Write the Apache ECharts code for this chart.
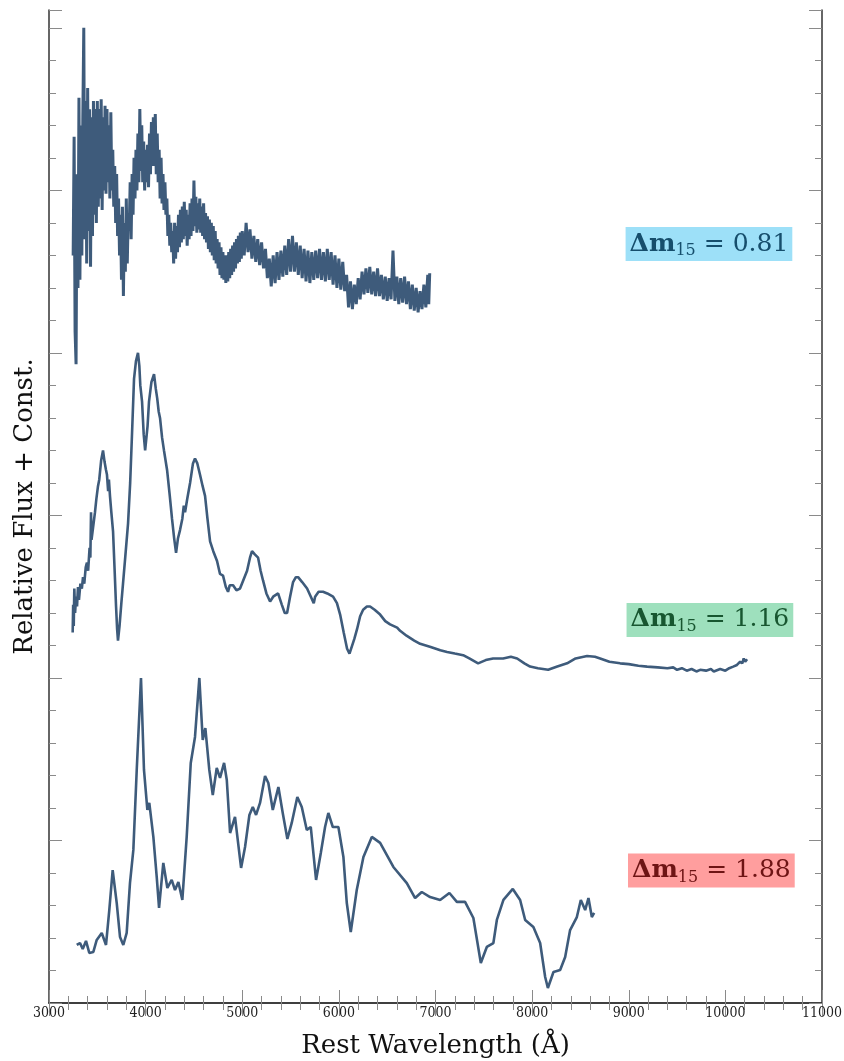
<!DOCTYPE html>
<html><head><meta charset="utf-8">
<script src="https://cdn.jsdelivr.net/npm/echarts@6/dist/echarts.min.js"></script>
<style>html,body{margin:0;padding:0;background:#fff}#c{width:844px;height:1061px}</style>
</head><body><div id="c"></div>
<script>
// ---------------- DATA ----------------
const xTickValues = [3000,4000,5000,6000,7000,8000,9000,10000,11000];
const xTitle = 'Rest Wavelength (Å)';
const yTitle = 'Relative Flux + Const.';
const labelTexts = ['0.81','1.16','1.88'];
const labelAnchors = [[9830,4.67],[9840,2.357],[9855,0.815]];

// Δm15 = 0.81 (noisy spectrum), [wavelength, relative flux + const]
const spec081 = [
[3250,4.60],[3260,5.33],[3270,4.13],[3280,3.93],[3290,5.10],[3300,4.40],[3310,5.57],[3320,4.45],[3330,5.40],[3340,4.60],
[3350,5.45],[3360,6.00],[3370,4.70],[3380,5.55],[3390,4.55],[3400,5.63],[3410,4.75],[3420,5.50],[3430,4.53],[3440,5.45],
[3450,4.72],[3460,5.55],[3470,4.85],[3480,5.50],[3490,4.80],[3500,5.55],[3510,4.90],[3520,5.50],[3530,4.95],[3540,5.56],
[3550,4.88],[3560,5.45],[3570,5.00],[3580,5.52],[3590,4.98],[3600,5.50],[3610,5.05],[3620,5.40],[3630,4.95],[3640,5.48],
[3650,5.00],[3660,5.25],[3670,4.90],[3680,5.15],[3690,4.80],[3700,5.10],[3710,4.72],[3720,4.95],[3730,4.60],[3740,4.85],
[3750,4.45],[3760,4.90],[3770,4.35],[3780,4.80],[3790,4.50],[3800,4.95],[3810,4.55],[3820,4.85],[3830,4.75],[3840,5.05],
[3850,4.70],[3860,5.10],[3870,4.85],[3880,5.20],[3890,4.95],[3900,5.25],[3910,5.00],[3920,5.35],[3930,5.05],[3940,5.50],
[3950,5.12],[3960,5.40],[3970,5.05],[3980,5.30],[3990,5.00],[4000,5.25],[4010,5.05],[4020,5.28],[4030,5.02],[4040,5.35],
[4050,5.10],[4060,5.42],[4070,5.15],[4080,5.45],[4090,5.15],[4100,5.47],[4110,5.10],[4120,5.35],[4130,5.05],[4140,5.25],
[4150,4.95],[4160,5.20],[4170,4.92],[4180,5.10],[4190,4.88],[4200,5.05],[4210,4.85],[4220,4.95],[4230,4.72],[4240,4.85],
[4250,4.66],[4260,4.80],[4270,4.62],[4280,4.75],[4290,4.55],[4300,4.80],[4310,4.58],[4320,4.78],[4330,4.62],[4340,4.85],
[4350,4.65],[4360,4.88],[4370,4.68],[4380,4.90],[4390,4.70],[4400,4.93],[4410,4.72],[4420,4.88],[4430,4.66],[4440,4.85],
[4450,4.70],[4460,4.92],[4470,4.72],[4480,4.95],[4490,4.75],[4500,5.06],[4510,4.78],[4520,4.96],[4530,4.74],[4540,4.92],
[4550,4.76],[4560,4.95],[4570,4.74],[4580,4.90],[4590,4.72],[4600,4.92],[4610,4.70],[4620,4.86],[4630,4.68],[4640,4.84],
[4650,4.64],[4660,4.82],[4670,4.62],[4680,4.80],[4690,4.60],[4700,4.78],[4710,4.57],[4720,4.75],[4730,4.55],[4740,4.70],
[4750,4.52],[4760,4.68],[4770,4.48],[4780,4.65],[4790,4.46],[4800,4.62],[4810,4.45],[4820,4.60],[4830,4.43],[4840,4.60],
[4850,4.44],[4860,4.62],[4870,4.46],[4880,4.64],[4890,4.48],[4900,4.66],[4910,4.50],[4920,4.68],[4930,4.52],[4940,4.70],
[4950,4.55],[4960,4.72],[4970,4.56],[4980,4.74],[4990,4.58],[5000,4.75],[5020,4.60],[5040,4.80],[5060,4.62],[5080,4.76],
[5100,4.58],[5120,4.72],[5140,4.56],[5160,4.70],[5180,4.54],[5200,4.68],[5220,4.52],[5240,4.64],[5260,4.46],[5280,4.58],
[5300,4.41],[5320,4.60],[5340,4.43],[5360,4.62],[5380,4.45],[5400,4.63],[5420,4.47],[5440,4.66],[5460,4.48],[5480,4.70],
[5500,4.50],[5520,4.72],[5540,4.50],[5560,4.68],[5580,4.48],[5600,4.66],[5620,4.46],[5640,4.64],[5660,4.44],[5680,4.63],
[5700,4.43],[5720,4.62],[5740,4.45],[5760,4.63],[5780,4.46],[5800,4.64],[5820,4.45],[5840,4.62],[5860,4.44],[5880,4.64],
[5900,4.45],[5920,4.62],[5940,4.42],[5960,4.60],[5980,4.40],[6000,4.58],[6020,4.39],[6040,4.56],[6060,4.38],[6080,4.48],
[6100,4.28],[6120,4.44],[6140,4.27],[6160,4.42],[6180,4.30],[6200,4.46],[6220,4.33],[6240,4.50],[6260,4.36],[6280,4.52],
[6300,4.37],[6320,4.53],[6340,4.36],[6360,4.50],[6380,4.35],[6400,4.52],[6420,4.35],[6440,4.48],[6460,4.33],[6480,4.47],
[6500,4.32],[6520,4.46],[6540,4.33],[6560,4.63],[6580,4.32],[6600,4.47],[6620,4.30],[6640,4.46],[6660,4.31],[6680,4.47],
[6700,4.30],[6720,4.44],[6740,4.27],[6760,4.42],[6780,4.26],[6800,4.40],[6820,4.25],[6840,4.38],[6860,4.27],[6880,4.42],
[6900,4.28],[6920,4.48],[6930,4.30],[6940,4.49]
];

// Δm15 = 1.16
const spec116 = [
[3245,2.28],[3250,2.45],[3256,2.32],[3262,2.55],[3270,2.40],[3280,2.50],[3290,2.44],[3300,2.56],[3310,2.48],[3325,2.58],
[3340,2.55],[3352,2.62],[3365,2.58],[3380,2.68],[3393,2.71],[3405,2.66],[3420,2.80],[3428,2.74],[3435,3.02],[3440,2.85],
[3455,2.92],[3476,3.02],[3490,3.10],[3507,3.18],[3520,3.22],[3540,3.34],[3559,3.40],[3575,3.33],[3590,3.28],[3600,3.25],
[3612,3.15],[3620,3.22],[3631,3.12],[3645,3.02],[3663,2.90],[3680,2.65],[3694,2.44],[3705,2.30],[3714,2.23],[3730,2.32],
[3750,2.47],[3766,2.58],[3790,2.75],[3818,2.95],[3840,3.20],[3859,3.50],[3880,3.84],[3900,3.95],[3921,4.00],[3935,3.92],
[3945,3.80],[3963,3.70],[3980,3.50],[3995,3.40],[4004,3.39],[4020,3.55],[4035,3.70],[4060,3.82],[4087,3.87],[4105,3.78],
[4120,3.72],[4135,3.64],[4149,3.60],[4170,3.48],[4190,3.40],[4222,3.28],[4250,3.12],[4273,2.98],[4295,2.86],[4315,2.77],
[4335,2.86],[4356,2.91],[4380,2.98],[4395,3.06],[4408,3.02],[4430,3.10],[4460,3.20],[4490,3.32],[4511,3.35],[4535,3.32],
[4563,3.25],[4590,3.18],[4615,3.12],[4640,2.98],[4667,2.84],[4700,2.78],[4739,2.72],[4770,2.64],[4801,2.63],[4830,2.56],
[4853,2.53],[4870,2.57],[4905,2.57],[4940,2.54],[4977,2.55],[5010,2.60],[5050,2.66],[5080,2.74],[5101,2.78],[5130,2.76],
[5164,2.74],[5190,2.66],[5215,2.60],[5250,2.52],[5288,2.47],[5320,2.50],[5371,2.52],[5410,2.45],[5440,2.40],[5464,2.40],
[5495,2.50],[5526,2.59],[5555,2.62],[5578,2.62],[5620,2.59],[5671,2.55],[5710,2.50],[5740,2.46],[5754,2.50],[5790,2.53],
[5836,2.53],[5880,2.52],[5940,2.50],[5980,2.46],[6013,2.39],[6050,2.28],[6085,2.18],[6110,2.15],[6126,2.16],[6160,2.24],
[6188,2.30],[6220,2.38],[6251,2.42],[6290,2.44],[6323,2.44],[6370,2.42],[6427,2.39],[6480,2.35],[6530,2.33],[6603,2.31],
[6634,2.29],[6700,2.26],[6780,2.23],[6841,2.21],[6950,2.19],[7050,2.17],[7120,2.16],[7200,2.15],[7286,2.14],[7350,2.12],
[7441,2.09],[7520,2.11],[7596,2.12],[7700,2.12],[7780,2.13],[7845,2.12],[7920,2.09],[7979,2.07],[8060,2.06],[8166,2.05],
[8260,2.07],[8362,2.09],[8450,2.12],[8569,2.135],[8650,2.13],[8704,2.12],[8800,2.10],[8911,2.09],[9000,2.085],[9100,2.075],
[9190,2.07],[9300,2.065],[9400,2.06],[9460,2.065],[9500,2.05],[9550,2.06],[9600,2.045],[9650,2.055],[9700,2.04],[9739,2.05],
[9800,2.045],[9850,2.055],[9880,2.04],[9946,2.055],[10000,2.045],[10040,2.06],[10081,2.07],[10120,2.08],[10153,2.10],[10175,2.09],
[10190,2.12],[10205,2.10],[10225,2.115]
];

// Δm15 = 1.88
const spec188 = [
[3287,0.357],[3321,0.369],[3349,0.332],[3383,0.382],[3417,0.308],[3459,0.314],[3494,0.388],[3546,0.431],[3590,0.357],[3624,0.572],
[3659,0.818],[3701,0.615],[3735,0.406],[3769,0.357],[3804,0.431],[3838,0.738],[3873,0.942],[3908,1.434],[3952,2.000],[3983,1.434],
[4018,1.188],[4038,1.231],[4080,1.022],[4115,0.775],[4139,0.585],[4183,0.862],[4225,0.708],[4270,0.757],[4304,0.695],[4339,0.745],
[4380,0.634],[4425,1.022],[4467,1.477],[4511,1.637],[4556,2.000],[4591,1.618],[4618,1.692],[4659,1.434],[4695,1.280],[4736,1.446],
[4770,1.385],[4812,1.477],[4840,1.372],[4874,1.046],[4925,1.145],[4988,0.831],[5029,0.960],[5074,1.157],[5109,1.206],[5143,1.157],
[5184,1.231],[5236,1.397],[5270,1.354],[5316,1.188],[5374,1.329],[5419,1.169],[5467,1.009],[5512,1.108],[5570,1.268],[5616,1.206],
[5668,1.065],[5709,1.083],[5764,0.757],[5813,0.923],[5857,1.083],[5891,1.169],[5937,1.083],[5995,1.083],[6047,0.898],[6082,0.615],
[6123,0.437],[6185,0.695],[6254,0.898],[6341,1.022],[6427,0.985],[6564,0.837],[6703,0.738],[6789,0.646],[6858,0.683],[6944,0.652],
[7048,0.634],[7144,0.677],[7221,0.622],[7306,0.622],[7392,0.523],[7469,0.246],[7531,0.345],[7599,0.369],[7635,0.511],[7703,0.634],
[7800,0.702],[7876,0.634],[7928,0.511],[8013,0.468],[8083,0.369],[8135,0.160],[8163,0.092],[8221,0.191],[8290,0.203],[8342,0.283],
[8393,0.449],[8463,0.529],[8504,0.634],[8549,0.572],[8583,0.646],[8618,0.529],[8642,0.554]
];

// ---------------- CHART ----------------
const SERIF = "'DejaVu Serif',serif";
const SERIF_C = "'DejaVu Serif Condensed','DejaVu Serif',serif";
const MATH = "'DejaVu Serif',serif";
const LINE = '#3e5b7b';
const frame = {show:true, lineStyle:{color:'#333', width:1.5}};
const tickCol = {color:'#8a8a8a', width:1};
const chart = echarts.init(document.getElementById('c'), null, {renderer:'canvas'});

const labelStyles = [
  {bg:'#9de0f8', fg:'#164e6c'},
  {bg:'#9ee0bd', fg:'#185630'},
  {bg:'#ff9e9e', fg:'#6e1414'}
];

function yAx(pos, interval, len, withLine, name) {
  const a = {type:'value', position:pos, min:0, max:6.11, interval:interval,
    axisLine: withLine ? frame : {show:false},
    axisTick:{show:true, inside:true, length:len, lineStyle:tickCol},
    axisLabel:{show:false}, splitLine:{show:false}};
  if (name) {
    a.name = name; a.nameLocation = 'middle'; a.nameGap = 11; a.nameRotate = 90;
    a.nameTextStyle = {fontFamily:SERIF, fontSize:26, color:'#111'};
  }
  return a;
}

const option = {
  animation:false,
  backgroundColor:'#fff',
  grid:{left:49, right:22, top:10, bottom:58, containLabel:false, outerBoundsMode:'none'},
  xAxis:[
    {type:'value', position:'bottom', min:3000, max:11000, interval:1000,
     axisLine:frame,
     axisTick:{show:true, inside:true, length:13, lineStyle:tickCol},
     minorTick:{show:true, splitNumber:5, length:7, lineStyle:tickCol},
     axisLabel:{show:true, fontFamily:SERIF_C, fontSize:14, color:'#222', margin:3,
       showMinLabel:true, showMaxLabel:true,
       formatter: v => xTickValues.includes(v) ? String(v) : ''},
     splitLine:{show:false},
     name:xTitle, nameLocation:'middle', nameGap:30,
     nameTextStyle:{fontFamily:SERIF, fontSize:26, color:'#111'}},
    {type:'value', position:'top', min:3000, max:11000, interval:1000,
     axisLine:frame,
     axisTick:{show:true, inside:true, length:13, lineStyle:tickCol},
     minorTick:{show:true, splitNumber:5, length:7, lineStyle:tickCol},
     axisLabel:{show:false}, splitLine:{show:false}}
  ],
  yAxis:[
    yAx('left', 1, 13, true, yTitle),
    yAx('left', 0.2, 7, false),
    yAx('right', 1, 13, true),
    yAx('right', 0.2, 7, false)
  ],
  series:[
    {type:'line', name:'0.81', data:spec081, xAxisIndex:0, yAxisIndex:0, showSymbol:false, symbol:'none',
     lineStyle:{color:LINE, width:3}, z:3},
    {type:'line', name:'1.16', data:spec116, xAxisIndex:0, yAxisIndex:0, showSymbol:false, symbol:'none',
     lineStyle:{color:LINE, width:2.6}, z:3},
    {type:'line', name:'1.88', data:spec188, xAxisIndex:0, yAxisIndex:0, showSymbol:false, symbol:'none',
     lineStyle:{color:LINE, width:2.6}, z:3},
    {type:'scatter', xAxisIndex:0, yAxisIndex:0, symbolSize:2, itemStyle:{color:'rgba(0,0,0,0)', opacity:1}, z:5,
     silent:true,
     data: labelTexts.map((t,i) => ({
       value:[labelAnchors[i][0], labelAnchors[i][1], t],
       label:{show:true, position:'inside', opacity:1, backgroundColor:labelStyles[i].bg, color:labelStyles[i].fg,
         padding:[2,4,2,4],
         formatter:'{d|Δ}{m|m}{s|15}{t| = ' + t + '}',
         rich:{
           d:{fontFamily:MATH, fontSize:25, fontWeight:'bold', color:labelStyles[i].fg, lineHeight:30},
           m:{fontFamily:MATH, fontSize:25, fontWeight:'bold', color:labelStyles[i].fg, lineHeight:30},
           s:{fontFamily:MATH, fontSize:16, color:labelStyles[i].fg, lineHeight:30, verticalAlign:'bottom', padding:[8,0,0,0]},
           t:{fontFamily:MATH, fontSize:25, color:labelStyles[i].fg, lineHeight:30}
         }}
     }))}
  ]
};
chart.setOption(option);
</script></body></html>
